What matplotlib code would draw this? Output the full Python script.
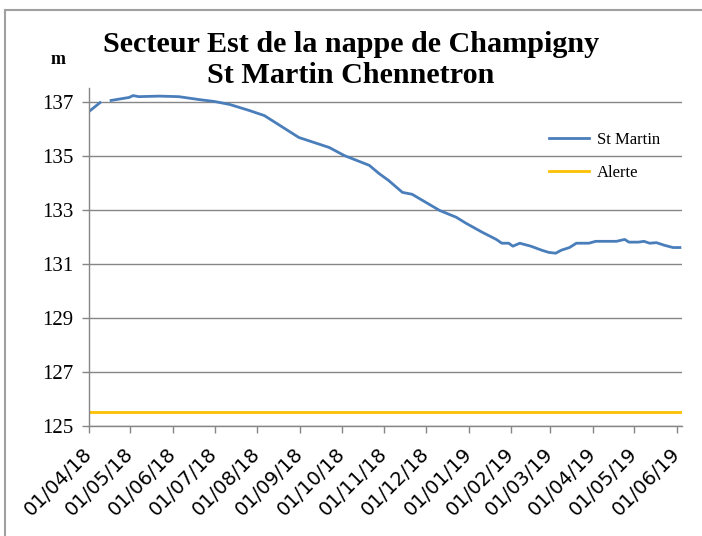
import matplotlib
matplotlib.use("Agg")
import matplotlib.pyplot as plt
import matplotlib.dates as mdates
import numpy as np
import pandas as pd
from matplotlib.patches import Rectangle

# ---- data ----
dates = ["2018-04-01", "2018-04-09", "2018-04-10", "2018-04-17", "2018-04-30", "2018-05-03",
         "2018-05-07", "2018-05-22", "2018-06-05", "2018-06-20", "2018-07-01", "2018-07-12",
         "2018-07-26", "2018-08-06", "2018-08-31", "2018-09-22", "2018-10-03", "2018-10-21",
         "2018-10-28", "2018-11-04", "2018-11-14", "2018-11-21", "2018-12-01", "2018-12-11",
         "2018-12-23", "2018-12-30", "2019-01-11", "2019-01-21", "2019-01-25", "2019-01-30",
         "2019-02-02", "2019-02-07", "2019-02-15", "2019-02-23", "2019-02-28", "2019-03-05",
         "2019-03-09", "2019-03-15", "2019-03-20", "2019-03-29", "2019-04-03", "2019-04-18",
         "2019-04-24", "2019-04-27", "2019-05-04", "2019-05-08", "2019-05-12", "2019-05-17",
         "2019-05-23", "2019-05-29", "2019-06-03"]
st_martin = [136.63, 136.96, np.nan, 137.04, 137.15, 137.22,
             137.18, 137.20, 137.18, 137.07, 137.00, 136.89,
             136.67, 136.48, 135.67, 135.30, 135.00, 134.64,
             134.34, 134.08, 133.64, 133.57, 133.27, 132.97,
             132.72, 132.50, 132.16, 131.90, 131.76, 131.76,
             131.65, 131.76, 131.65, 131.50, 131.42, 131.39,
             131.50, 131.60, 131.76, 131.76, 131.83, 131.83,
             131.90, 131.80, 131.80, 131.83, 131.76, 131.78,
             131.68, 131.60, 131.60]
alerte = 125.5
tick_dates = pd.date_range("2018-04-01", "2019-06-01", freq="MS")
y_ticks = [125, 127, 129, 131, 133, 135, 137]

title = "Secteur Est de la nappe de Champigny\nSt Martin Chennetron"

# ---- plot ----
serif = ["Liberation Serif", "DejaVu Serif"]
fig = plt.figure(figsize=(7.02, 5.36), dpi=100)
ax = fig.add_axes([89/702, 1 - 426/536, (682 - 89)/702, (426 - 88)/536])

d = pd.to_datetime(dates)
xmin = pd.Timestamp("2018-04-01")
xmax = pd.Timestamp("2019-06-04 12:00")
ax.plot(d, st_martin, color="#4a7ebb", lw=2.0, label="St Martin")
ax.plot([xmin, xmax], [alerte, alerte], color="#ffc000", lw=2.0, label="Alerte")

ax.set_xlim(xmin, xmax)
ax.set_ylim(125, 137.5)
ax.set_yticks(y_ticks)
ax.set_yticklabels([str(v) for v in y_ticks], fontfamily=serif, fontsize=15)
ax.set_xticks(tick_dates)
ax.set_xticklabels([t.strftime("%d/%m/%y") for t in tick_dates], rotation=45,
                   ha="right", va="center", rotation_mode="anchor", fontsize=14,
                   fontfamily="DejaVu Sans")
ax.grid(axis="y", color="#868686", lw=1)
ax.set_axisbelow(True)
for s in ["top", "right"]:
    ax.spines[s].set_visible(False)
for s in ["left", "bottom"]:
    ax.spines[s].set_color("#868686")
    ax.spines[s].set_linewidth(1)
ax.tick_params(axis="both", color="#868686", length=5, width=1)
ax.tick_params(axis="y", pad=6)
ax.tick_params(axis="x", pad=13)

leg = ax.legend(loc="upper left", bbox_to_anchor=(0.750, 0.915), frameon=False,
                prop={"family": serif, "size": 12}, handlelength=2.4, labelspacing=1.05,
                handletextpad=0.5)

fig.text(0.5, 0.943, title, ha="center", va="top", fontfamily=serif,
         fontweight="bold", fontsize=21.7, linespacing=1.22)
fig.text(58/702, 1 - 60/536, "m", ha="center", va="center", fontfamily=serif,
         fontweight="bold", fontsize=13)

fig.patches.append(Rectangle((5/702, -0.1), 1.2, 1 - 10/536 + 0.1, transform=fig.transFigure,
                             fill=False, edgecolor="#a0a0a0", lw=1.5))

fig.savefig("out.png", dpi=100)
